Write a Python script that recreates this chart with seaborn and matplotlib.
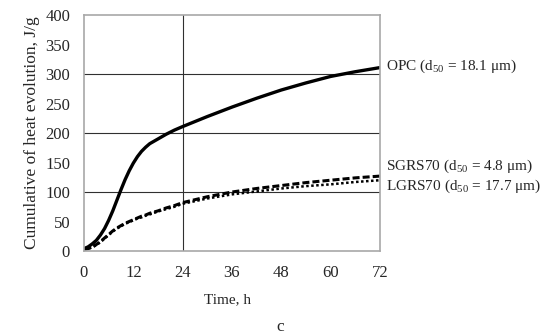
import pandas as pd
import matplotlib.pyplot as plt
import seaborn as sns

# Dados (tempo em h, calor acumulado em J/g)
time_h = [0, 1, 2, 3, 4, 5, 6, 7, 8, 9, 10, 11, 12, 13, 14, 15, 16, 18, 20, 22,
          24, 30, 36, 42, 48, 54, 60, 66, 72]
opc = [4, 7, 12, 18, 27, 38, 52, 68, 86, 104, 121, 136, 149, 160, 169, 176, 182, 190, 198, 205,
       211, 228, 244, 259, 273, 285, 296, 304, 311]
sgrs70 = [3, 4, 7, 11, 16, 22, 28, 34, 39, 43, 47, 50, 53, 56, 59, 61, 64, 68, 73, 77,
          82, 92, 100, 106, 111, 116, 120, 124, 127]
lgrs70 = [3, 4, 6, 10, 15, 21, 27, 33, 38, 42, 46, 49, 52, 55, 57, 60, 62, 67, 71, 75,
          80, 89, 96, 101, 106, 110, 113, 117, 120]

labels = ["OPC (d$_{50}$ = 18.1 \u03bcm)",
          "SGRS70 (d$_{50}$ = 4.8 \u03bcm)",
          "LGRS70 (d$_{50}$ = 17.7 \u03bcm)"]
label_y = [313, 144, 110]

df = pd.DataFrame({"Time": time_h * 3,
                   "Heat": opc + sgrs70 + lgrs70,
                   "Mix": ["OPC"] * len(time_h) + ["SGRS70"] * len(time_h) + ["LGRS70"] * len(time_h)})

sns.set_style("white")
plt.rcParams["font.family"] = ["Liberation Serif", "DejaVu Serif"]
plt.rcParams["mathtext.fontset"] = "custom"
plt.rcParams["mathtext.rm"] = "Liberation Serif"

fig = plt.figure(figsize=(5.49, 3.36), dpi=100)
ax = fig.add_axes([0.153, 0.253, 0.539, 0.702])

styles = {"OPC": ("-", 2.4), "SGRS70": ((0, (2.3, 1)), 2.2), "LGRS70": ((0, (1, 1)), 1.8)}
for mix, group in df.groupby("Mix", sort=False):
    ls, lw = styles[mix]
    sns.lineplot(x="Time", y="Heat", data=group, ax=ax, color="black",
                 linestyle=ls, linewidth=lw, legend=False)

ax.set_xlim(0, 72)
ax.set_ylim(0, 400)
ax.set_xticks(range(0, 73, 12))
ax.set_yticks(range(0, 401, 50))
ax.tick_params(length=0, labelsize=12)
ax.tick_params(axis="y", pad=10)
ax.tick_params(axis="x", pad=10)

for yv in [100, 200, 300]:
    ax.axhline(yv, color="#303030", linewidth=0.8, zorder=0)
ax.axvline(24, color="#303030", linewidth=0.8, zorder=0)

for side in ["top", "right", "left", "bottom"]:
    ax.spines[side].set_color("#a8a8a8")
    ax.spines[side].set_linewidth(1.2)

ax.set_xlabel("Time, h", fontsize=11)
ax.xaxis.set_label_coords(0.486, -0.178)
ax.set_ylabel("Cumulative of heat evolution, J/g", fontsize=12.5, labelpad=4)

for text, yv in zip(labels, label_y):
    ax.text(73.5, yv, text, fontsize=11, va="center", ha="left")

fig.text(0.51, 0.027, "c", fontsize=12.5, ha="center", va="center")

plt.savefig("out.png", dpi=100)
plt.close()
